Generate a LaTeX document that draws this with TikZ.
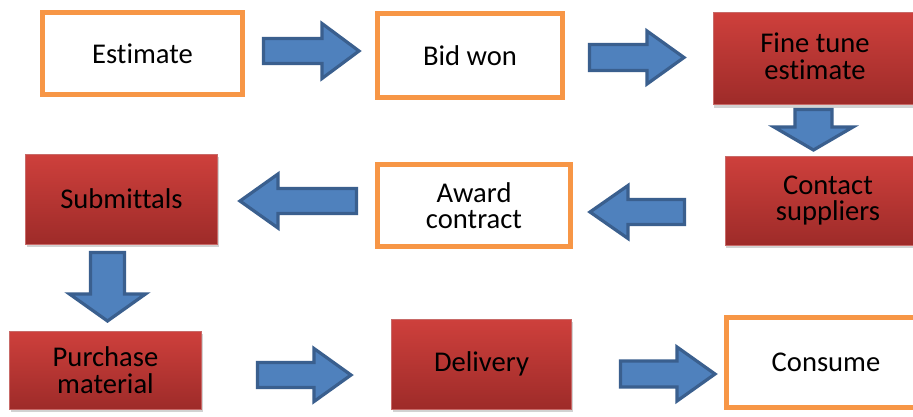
\documentclass[tikz,border=0pt]{standalone}
\usepackage{fontspec}
\setmainfont[Ligatures=NoCommon]{Carlito}
\usetikzlibrary{shadows}
\definecolor{boxorange}{HTML}{F79646}
\definecolor{arrowfill}{HTML}{4F81BD}
\definecolor{arrowline}{HTML}{3A5F8E}
\definecolor{redtop}{HTML}{CE403C}
\definecolor{redbottom}{HTML}{9E2B29}
\definecolor{redline}{HTML}{C86A68}

\tikzset{
  label text/.style={font=\fontsize{28.6}{26.5}\selectfont, text=black, align=center},
  obox/.style={label text, draw=boxorange, line width=5pt, fill=white, inner sep=0pt},
  rbox/.style={label text, draw=redline, line width=0.8pt, inner sep=0pt,
    top color=redtop, bottom color=redbottom,
    drop shadow={shadow xshift=1pt, shadow yshift=-3pt, fill=black!35, opacity=0.5}},
  barrow/.style={fill=arrowfill, draw=arrowline, line width=3.2pt, line join=miter},
}

% horizontal block arrow: tail x, tip x, centre y, shaft half height, head half height, head length (signed)
\newcommand\hblockarrow[6]{%
  \draw[barrow] (#1,#3-#4) -- (#2-#6,#3-#4) -- (#2-#6,#3-#5) -- (#2,#3)
    -- (#2-#6,#3+#5) -- (#2-#6,#3+#4) -- (#1,#3+#4) -- cycle;}
% vertical block arrow: centre x, tail y, tip y, shaft half width, head half width, head length
\newcommand\vblockarrow[6]{%
  \draw[barrow] (#1-#4,#2) -- (#1-#4,#3-#6) -- (#1-#5,#3-#6) -- (#1,#3)
    -- (#1+#5,#3-#6) -- (#1+#4,#3-#6) -- (#1+#4,#2) -- cycle;}

\begin{document}
\begin{tikzpicture}[x=1pt, y=-1pt]
  \clip (0,0) rectangle (913,416);
  \fill[white] (0,0) rectangle (913,416);

  % row 1
  \node[obox, minimum width=200pt, minimum height=82pt] (est) at (142.5,53.5) {Estimate};
  \node[obox, minimum width=185pt, minimum height=84pt] (bid) at (470,55.5) {Bid won};
  \node[rbox, minimum width=200pt, minimum height=92pt] (fine) at (813,58.5) {};
  \node[label text] (finetext) at (815,56.5) {Fine tune\\estimate};

  % row 2
  \node[rbox, minimum width=206pt, minimum height=89pt] (cont) at (828,200.5) {Contact\\suppliers};
  \node[obox, minimum width=193pt, minimum height=82pt] (award) at (474,205.5) {Award\\contract};
  \node[rbox, minimum width=192pt, minimum height=90pt] (sub) at (121.5,199) {Submittals};

  % row 3
  \node[rbox, minimum width=192pt, minimum height=78pt] (purch) at (105.5,370) {Purchase\\material};
  \node[rbox, minimum width=180pt, minimum height=90pt] (deliv) at (481.5,364) {Delivery};
  \node[obox, minimum width=200pt, minimum height=90pt] (cons) at (826,362.5) {Consume};

  % flow arrows
  \hblockarrow{263.5}{359}{51}{12.5}{27.5}{37}
  \hblockarrow{589.5}{684}{57.5}{13}{26.5}{37}
  \vblockarrow{813.5}{109.5}{150}{18.5}{39.5}{23}
  \hblockarrow{684.5}{590}{212}{12.5}{26.5}{-38}
  \hblockarrow{356.5}{240}{201}{12.5}{27}{-38}
  \vblockarrow{107.5}{252.5}{321}{17}{38}{27}
  \hblockarrow{257.5}{351}{375}{12.5}{26.5}{37}
  \hblockarrow{620.5}{715}{374}{13}{27}{38}
\end{tikzpicture}
\end{document}
